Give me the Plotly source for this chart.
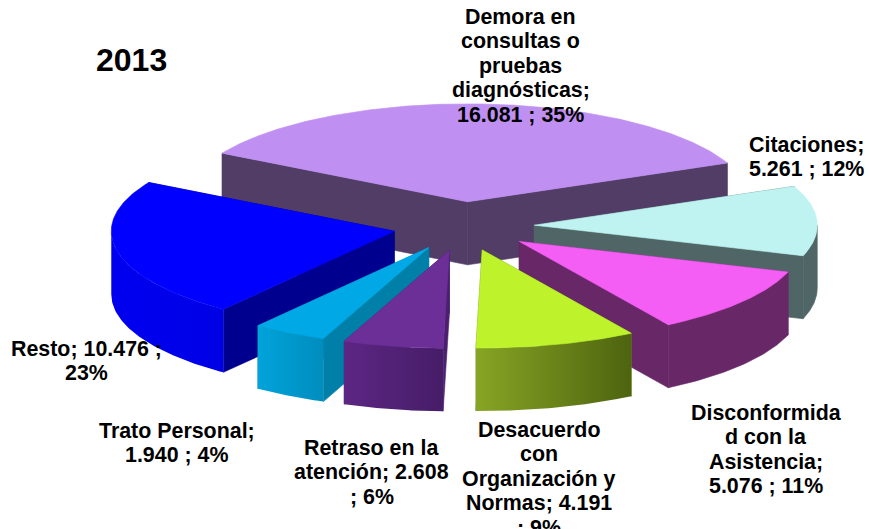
import math
import plotly.graph_objects as go

title_text = "2013"
categories = ["Demora en consultas o pruebas diagnósticas", "Citaciones",
              "Disconformidad con la Asistencia", "Desacuerdo con Organización y Normas",
              "Retraso en la atención", "Trato Personal", "Resto"]
values = [16081, 5261, 5076, 4191, 2608, 1940, 10476]
top_colors = ["#BF8FF2", "#BEF3F2", "#F55EF5", "#BEF32B", "#6C2F97", "#00A9E6", "#0000FF"]
rim_left = ["#513D66", "#506666", "#682868", "#87A524", "#5C2683", "#00A3DA", "#0000F0"]
rim_right = ["#513D66", "#506666", "#682868", "#4E630F", "#461D68", "#008DBE", "#0000E6"]
side_colors = ["#513D66", "#506666", "#682868", "#6A8216", "#4C2070", "#0080A8", "#00008F"]
label_lines = [
    ["Demora en", "consultas o", "pruebas", "diagnósticas;", "16.081 ; 35%"],
    ["Citaciones;", "5.261 ; 12%"],
    ["Disconformida", "d con la", "Asistencia;", "5.076 ; 11%"],
    ["Desacuerdo", "con", "Organización y", "Normas; 4.191", "; 9%"],
    ["Retraso en la", "atención; 2.608", "; 6%"],
    ["Trato Personal;", "1.940 ; 4%"],
    ["Resto; 10.476 ;", "23%"],
]
label_x = [520.5, 806.5, 766, 538.5, 371.5, 176.5, 86.5]
label_y = [17, 145, 413, 430, 448, 431, 349]

CX, CY, RX, RY, DEPTH, EXPLODE, START = 463.6, 226.3, 283, 98, 63, 0.25, -60.2
LINE_GAP, FONT = 24.4, "Liberation Sans, Arial, sans-serif"
draw_order = [0, 1, 2, 6, 5, 4, 3]


def point(deg, ox, oy, dz=0):
    t = math.radians(deg)
    return ox + RX * math.sin(t), oy - RY * math.cos(t) + dz


def poly(xs, ys, color, grad=None):
    kw = dict(x=xs, y=ys, mode="lines", fill="toself", hoverinfo="skip", showlegend=False)
    if grad:
        return go.Scatter(line=dict(width=0), fillgradient=dict(
            type="horizontal", colorscale=[[0, grad[0]], [1, grad[1]]]), **kw)
    return go.Scatter(line=dict(width=0.6, color=color), fillcolor=color, **kw)


total = sum(values)
spans, a = [], START
for v in values:
    b = a + v / total * 360
    spans.append((a, b))
    a = b

fig = go.Figure()
for i in draw_order:
    a0, a1 = spans[i]
    mid = (a0 + a1) / 2
    ox, oy = point(mid, CX, CY)
    ox, oy = CX + (ox - CX) * EXPLODE, CY + (oy - CY) * EXPLODE
    mx, my = point(mid, 0, 0)

    # radial side faces: the ones turned away from the viewer go first
    faces = []
    for edge in (a0, a1):
        dx, dy = point(edge, 0, 0)
        line_y = dy / dx * mx if abs(dx) > 1e-6 else -1e9
        faces.append((my < line_y, edge))
    for visible, edge in sorted(faces):
        ex, ey = point(edge, ox, oy)
        fig.add_trace(poly([ox, ex, ex, ox, ox], [oy, ey, ey + DEPTH, oy + DEPTH, oy],
                           side_colors[i]))

    # outer rim: only the part on the front half of the ellipse
    lo, hi = max(a0, 90), min(a1, 270)
    if hi > lo:
        n = 60
        angs = [lo + (hi - lo) * k / n for k in range(n + 1)]
        tx, ty = zip(*[point(d, ox, oy) for d in angs])
        bx, by = zip(*[point(d, ox, oy, DEPTH) for d in reversed(angs)])
        xs, ys = list(tx) + list(bx) + [tx[0]], list(ty) + list(by) + [ty[0]]
        l, r = rim_left[i], rim_right[i]
        fig.add_trace(poly(xs, ys, l, None if l == r else (l, r)))

    # top surface
    n = max(int(a1 - a0), 2) * 2
    angs = [a0 + (a1 - a0) * k / n for k in range(n + 1)]
    tx, ty = zip(*[point(d, ox, oy) for d in angs])
    fig.add_trace(poly([ox] + list(tx) + [ox], [oy] + list(ty) + [oy], top_colors[i]))

annotations = [dict(x=131.5, y=60, text=f"<b>{title_text}</b>", showarrow=False,
                    font=dict(family=FONT, size=32, color="black"),
                    xref="x", yref="y", xanchor="center", yanchor="middle")]
for lines, lx, ly in zip(label_lines, label_x, label_y):
    for k, line in enumerate(lines):
        annotations.append(dict(x=lx, y=ly + k * LINE_GAP, text=f"<b>{line}</b>", showarrow=False,
                                font=dict(family=FONT, size=21.4, color="black"),
                                xref="x", yref="y", xanchor="center", yanchor="middle"))

fig.update_layout(
    width=869, height=529, autosize=False,
    margin=dict(l=0, r=0, t=0, b=0),
    paper_bgcolor="white", plot_bgcolor="white",
    showlegend=False, annotations=annotations,
    xaxis=dict(range=[0, 869], visible=False, fixedrange=True),
    yaxis=dict(range=[529, 0], visible=False, fixedrange=True),
)
fig.write_html("out.html", config={"displayModeBar": False},
               post_script="document.body.style.margin='0';")
